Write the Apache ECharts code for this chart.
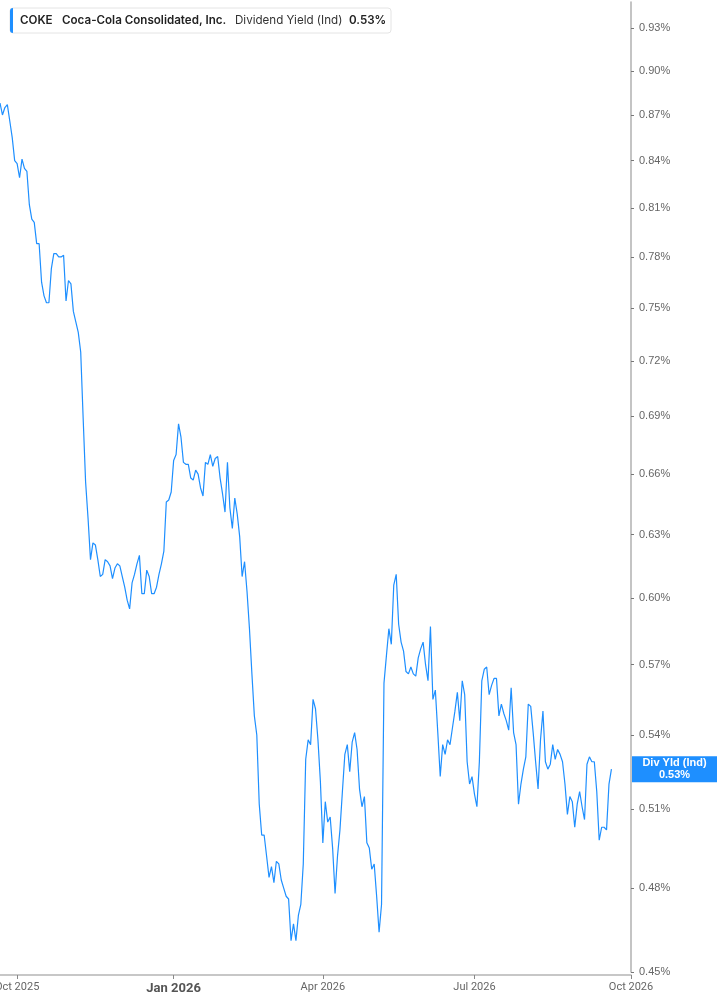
<!DOCTYPE html>
<html>
<head>
<meta charset="utf-8">
<title>COKE Dividend Yield</title>
<script src="https://cdn.jsdelivr.net/npm/echarts@6.0.0/dist/echarts.min.js"></script>
<style>
  html, body { margin: 0; padding: 0; background: #fff; }
  #chart { width: 717px; height: 1005px; }
</style>
</head>
<body>
<div id="chart"></div>
<script>
// trading calendar for the x axis
var firstDay = '2025-09-22';
var lastDay = '2026-10-01';
var marketHolidays = ['2025-11-27', '2025-12-25', '2026-01-01', '2026-01-19', '2026-02-16',
    '2026-04-03', '2026-05-25', '2026-06-19', '2026-07-03', '2026-09-07'];
var monthNames = ['Jan', 'Feb', 'Mar', 'Apr', 'May', 'Jun', 'Jul', 'Aug', 'Sep', 'Oct', 'Nov', 'Dec'];

// dividend yield (Ind), in %, one value per trading day from firstDay
var yieldValues = [
    0.878, 0.870, 0.875, 0.877, 0.866, 0.855, 0.840, 0.838, 0.829, 0.841,
    0.835, 0.833, 0.812, 0.803, 0.801, 0.788, 0.788, 0.765, 0.757, 0.753,
    0.753, 0.773, 0.782, 0.782, 0.780, 0.780, 0.781, 0.754, 0.766, 0.764,
    0.748, 0.742, 0.736, 0.725, 0.689, 0.656, 0.638, 0.618, 0.626, 0.625,
    0.618, 0.610, 0.611, 0.618, 0.617, 0.615, 0.609, 0.614, 0.616, 0.615,
    0.610, 0.605, 0.599, 0.595, 0.607, 0.611, 0.616, 0.620, 0.602, 0.602,
    0.613, 0.610, 0.602, 0.602, 0.605, 0.611, 0.616, 0.622, 0.646, 0.647,
    0.651, 0.667, 0.670, 0.686, 0.679, 0.666, 0.665, 0.665, 0.658, 0.657,
    0.662, 0.660, 0.653, 0.649, 0.666, 0.665, 0.670, 0.664, 0.668, 0.669,
    0.658, 0.650, 0.641, 0.666, 0.643, 0.633, 0.648, 0.640, 0.629, 0.610,
    0.617, 0.603, 0.586, 0.566, 0.548, 0.540, 0.512, 0.500, 0.500, 0.492,
    0.484, 0.488, 0.482, 0.490, 0.489, 0.483, 0.480, 0.477, 0.476, 0.461,
    0.467, 0.461, 0.470, 0.474, 0.489, 0.530, 0.538, 0.536, 0.555, 0.551,
    0.538, 0.521, 0.497, 0.513, 0.505, 0.507, 0.495, 0.478, 0.492, 0.502,
    0.517, 0.532, 0.536, 0.525, 0.537, 0.541, 0.534, 0.518, 0.511, 0.515,
    0.497, 0.495, 0.487, 0.489, 0.477, 0.464, 0.474, 0.562, 0.574, 0.586,
    0.579, 0.606, 0.611, 0.588, 0.580, 0.576, 0.567, 0.566, 0.569, 0.566,
    0.565, 0.573, 0.577, 0.580, 0.570, 0.563, 0.587, 0.555, 0.559, 0.541,
    0.523, 0.536, 0.532, 0.538, 0.536, 0.543, 0.550, 0.558, 0.546, 0.563,
    0.557, 0.529, 0.520, 0.523, 0.516, 0.511, 0.529, 0.563, 0.568, 0.569,
    0.557, 0.561, 0.564, 0.564, 0.548, 0.553, 0.549, 0.546, 0.542, 0.560,
    0.541, 0.536, 0.512, 0.520, 0.526, 0.531, 0.553, 0.552, 0.541, 0.529,
    0.518, 0.538, 0.550, 0.529, 0.526, 0.528, 0.536, 0.530, 0.534, 0.532,
    0.529, 0.520, 0.508, 0.515, 0.513, 0.503, 0.512, 0.517, 0.511, 0.506,
    0.528, 0.531, 0.529, 0.529, 0.517, 0.498, 0.503, 0.503, 0.502, 0.520,
    0.526
];

// y axis (log scale) ticks and range, in %
var yTicks = [0.45, 0.48, 0.51, 0.54, 0.57, 0.60, 0.63, 0.66, 0.69, 0.72, 0.75, 0.78, 0.81, 0.84, 0.87, 0.90, 0.93];
var yMin = 0.45;
var yMax = 0.949;

var lineColor = '#1e8fff';

var buildDays = function () {
    var out = [];
    var d = new Date(firstDay + 'T00:00:00Z');
    var end = new Date(lastDay + 'T00:00:00Z');
    while (d <= end) {
        var s = d.toISOString().slice(0, 10);
        var dow = d.getUTCDay();
        if (dow !== 0 && dow !== 6 && marketHolidays.indexOf(s) < 0) out.push(s);
        d.setUTCDate(d.getUTCDate() + 1);
    }
    return out;
};
var days = buildDays();

// first trading day of Jan / Apr / Jul / Oct
var isQuarterStart = function (idx) {
    if (idx === 0) return false;
    var m = +days[idx].slice(5, 7);
    var pm = +days[idx - 1].slice(5, 7);
    return m !== pm && (m - 1) % 3 === 0;
};

var option = {
    animation: false,
    backgroundColor: '#fff',
    grid: { left: 0, right: 86, top: 2, bottom: 33, containLabel: false, outerBoundsMode: 'none' },
    xAxis: {
        type: 'category',
        data: days,
        boundaryGap: false,
        offset: 3,
        axisLine: { show: true, lineStyle: { color: '#b5b5b5', width: 1.5 } },
        axisTick: {
            show: true,
            interval: function (idx) { return isQuarterStart(idx); },
            length: 4,
            lineStyle: { color: '#888' }
        },
        axisLabel: {
            interval: function (idx) { return isQuarterStart(idx); },
            margin: 7,
            color: '#666',
            fontFamily: 'Roboto',
            fontSize: 11,
            formatter: function (val) {
                var m = +val.slice(5, 7) - 1;
                var txt = monthNames[m] + ' ' + val.slice(0, 4);
                return m === 0 ? '{b|' + txt + '}' : txt;
            },
            rich: {
                b: { fontFamily: 'Roboto', fontWeight: 'bold', fontSize: 13, color: '#555' }
            }
        },
        splitLine: { show: false }
    },
    yAxis: {
        type: 'value',
        position: 'right',
        min: Math.log(yMin),
        max: Math.log(yMax),
        axisLine: { show: true, lineStyle: { color: '#b0b0b0', width: 1.5 } },
        axisTick: {
            show: true,
            customValues: yTicks.map(Math.log),
            length: 3,
            lineStyle: { color: '#777' }
        },
        axisLabel: {
            customValues: yTicks.map(Math.log),
            margin: 8,
            color: '#666',
            fontFamily: 'Liberation Sans',
            fontSize: 11,
            formatter: function (v) { return Math.exp(v).toFixed(2) + '%'; }
        },
        splitLine: { show: false }
    },
    series: [
        {
            name: 'Dividend Yield (Ind)',
            type: 'line',
            data: yieldValues.map(Math.log),
            showSymbol: false,
            lineStyle: { color: lineColor, width: 1.2 },
            itemStyle: { color: lineColor }
        }
    ]
};

var chart = echarts.init(document.getElementById('chart'), null, { renderer: 'canvas' });
chart.setOption(option);

// legend box top-left and the last-value tag on the y axis
var lastVal = yieldValues[yieldValues.length - 1];
var tagY = chart.convertToPixel({ yAxisIndex: 0 }, Math.log(lastVal));
var axisX = chart.convertToPixel({ xAxisIndex: 0 }, days[days.length - 1]);
var legendFont = '11.6px Inter';

chart.setOption({
    graphic: [
        {
            type: 'rect',
            shape: { x: 10, y: 8, width: 381, height: 25, r: 3 },
            style: { fill: '#fff', stroke: '#e4e4e4', lineWidth: 1 },
            z: 10
        },
        {
            type: 'rect',
            shape: { x: 10, y: 8, width: 3, height: 25, r: [3, 0, 0, 3] },
            style: { fill: lineColor },
            z: 11
        },
        {
            type: 'text', x: 20, y: 21, z: 11,
            style: { text: 'COKE', fill: '#222', font: '600 ' + legendFont, verticalAlign: 'middle' }
        },
        {
            type: 'text', x: 62, y: 21, z: 11,
            style: { text: 'Coca-Cola Consolidated, Inc.', fill: '#222', font: '600 ' + legendFont, verticalAlign: 'middle' }
        },
        {
            type: 'text', x: 235, y: 21, z: 11,
            style: { text: 'Dividend Yield (Ind)', fill: '#333', font: '400 ' + legendFont, verticalAlign: 'middle' }
        },
        {
            type: 'text', x: 349, y: 21, z: 11,
            style: { text: lastVal.toFixed(2) + '%', fill: '#222', font: '600 ' + legendFont, verticalAlign: 'middle' }
        },
        {
            type: 'rect',
            shape: { x: axisX + 1, y: tagY - 13, width: 717 - axisX - 1, height: 26 },
            style: { fill: lineColor },
            z: 10
        },
        {
            type: 'text', x: (axisX + 717) / 2 + 0.5, y: tagY, z: 11,
            style: {
                text: 'Div Yld (Ind)\n' + lastVal.toFixed(2) + '%',
                fill: '#fff',
                font: 'bold 11px "Liberation Sans"',
                lineHeight: 12,
                align: 'center',
                verticalAlign: 'middle'
            }
        }
    ]
});
</script>
</body>
</html>
